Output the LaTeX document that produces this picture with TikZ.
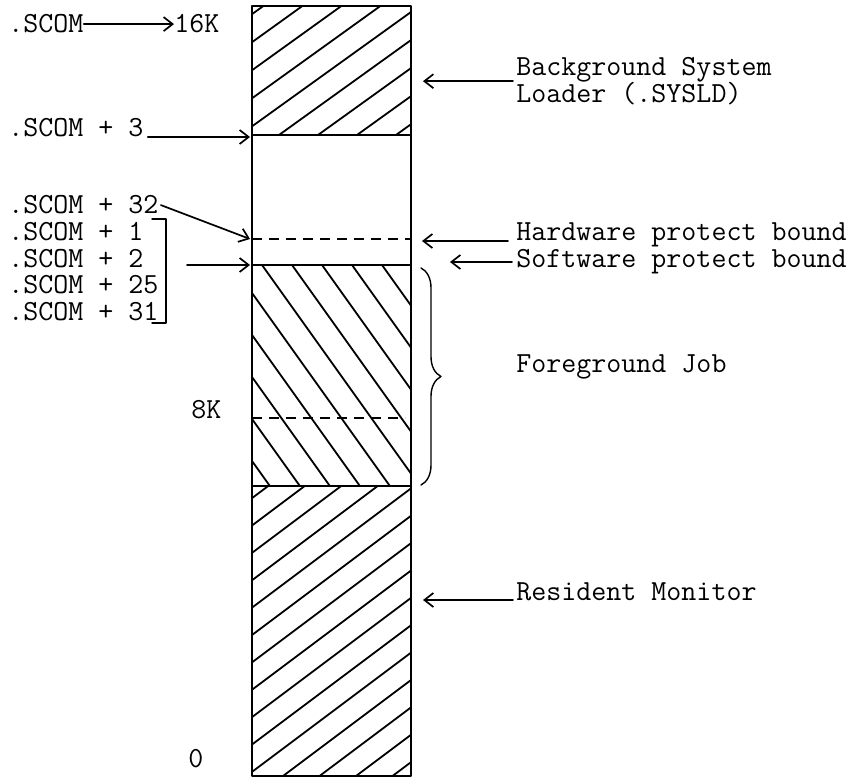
\documentclass[tikz,border=0pt]{standalone}
\usepackage{fontspec}
\usepackage{tikz}
\usetikzlibrary{arrows.meta,decorations.pathreplacing}
\tikzset{
  every picture/.style={line join=round, line cap=round, >={Straight Barb[length=4.5pt,width=7pt]}},
  lbl/.style={inner sep=0pt, anchor=base west, font=\ttfamily\fontsize{14.57}{13.5}\selectfont},
  wall/.style={line width=1pt},
  hatch/.style={line width=0.9pt},
  ptr/.style={->, line width=0.85pt},
  bound/.style={line width=0.6pt, line cap=butt, dash pattern=on 5pt off 3.5pt},
}

\begin{document}
\begin{tikzpicture}[x=0.5pt,y=-0.5pt]
\useasboundingbox (0,0) rectangle (866,780);
% hatching of the three filled parts
\begin{scope}
\clip (252,6) rectangle (411,135);
\foreach \k in {-6,...,3}
  \draw[hatch] (279+39*\k,135) -- ++(260,-187);
\end{scope}
\begin{scope}
\clip (252,265) rectangle (411,486);
\foreach \k in {-6,...,5}
  \draw[hatch] (262+30*\k,265) -- ++(200,280);
\end{scope}
\begin{scope}
\clip (252,486) rectangle (411,776);
\foreach \k in {-12,...,3}
  \draw[hatch] (283+36.5*\k,776) -- ++(600,-450);
\end{scope}
% memory column
\draw[wall] (252,6) rectangle (411,776);
\draw[wall] (252,135) -- (411,135)
(252,265) -- (411,265)
(252,486) -- (411,486);
\draw[bound] (252,239) -- (411,239);
\draw[bound] (252,418) -- (405,418);
\coordinate (ldr) at (250,137);
\coordinate (hwp) at (250,239);
\coordinate (swt) at (187,265);
\coordinate (swp) at (250,265);
% left labels
\node[lbl] (scom) at (8,33) {.SCOM};
\node[lbl] (k16) at (174,33) {16K};
\node[lbl] (scom3) at (8,137) {.SCOM + 3};
\node[lbl] (s32) at (8,214) {.SCOM + 32};
\node[lbl] (s1) at (8,241) {.SCOM + 1};
\node[lbl] (s2) at (8,268) {.SCOM + 2};
\node[lbl] (s25) at (8,294) {.SCOM + 25};
\node[lbl] (s31) at (8,321) {.SCOM + 31};
\node[lbl] (k8) at (191,418) {8K};
\node[lbl] (k0) at (188,767) {0};
\draw[ptr] (scom.east) -- (k16.west);
\draw[ptr] ([xshift=2pt]scom3.base east) -- (ldr);
\draw[ptr] ([xshift=1pt]s32.east) -- (hwp);
\draw[ptr] (swt) -- (swp);
\draw[line width=0.7pt] (152,219) -| (166,323) -- (152,323);
% right labels
\node[lbl, anchor=north west, align=left] (bsl) at (516,57) {Background System\\Loader (.SYSLD)};
\node[lbl] (hwb) at (516,241) {Hardware protect bound};
\node[lbl] (swb) at (516,268) {Software protect bound};
\node[lbl] (fgj) at (516,372) {Foreground Job};
\node[lbl] (rm) at (516,600) {Resident Monitor};
\draw[ptr] ([xshift=-1.5pt]bsl.west) -- ([xshift=-46.5pt]bsl.west);
\draw[ptr] ([xshift=-4pt]hwb.base west) -- ([xshift=-47pt]hwb.base west);
\draw[ptr] ([xshift=-2pt,yshift=3pt]swb.base west) -- ([xshift=-33pt,yshift=3pt]swb.base west);
\draw[ptr] ([xshift=-1.5pt]rm.base west) -- ([xshift=-46.5pt]rm.base west);
\draw[decorate, decoration={brace, amplitude=10pt}, line width=0.7pt] (421,268) -- (421,485);
\end{tikzpicture}
\end{document}
